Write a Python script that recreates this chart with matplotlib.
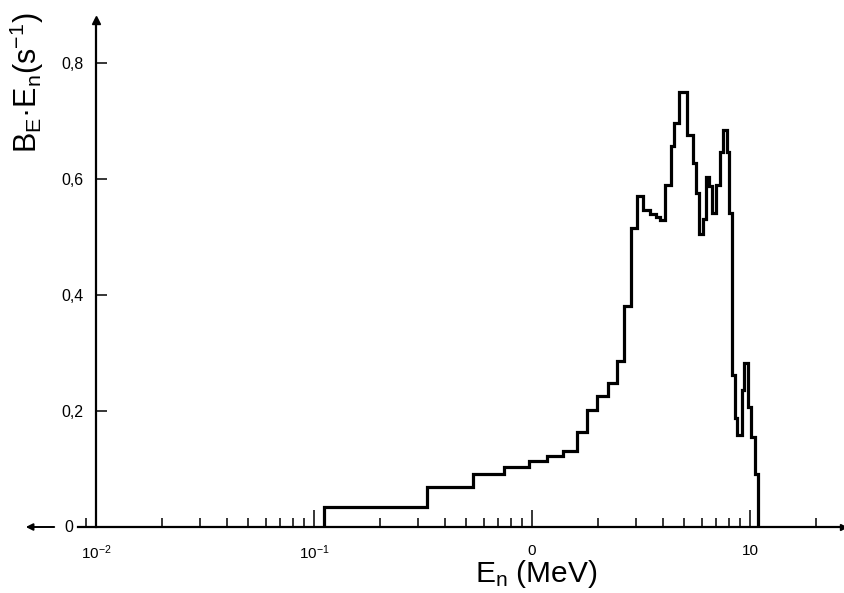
"""Neutron spectrum B_E*E_n vs E_n, step histogram on a log energy axis."""

import matplotlib
matplotlib.use("Agg")
import matplotlib.pyplot as plt
from matplotlib.ticker import FixedLocator, LogLocator, NullFormatter

# bin edges (MeV) and heights (s^-1)
edges_mev = [0.111, 0.330, 0.536, 0.745, 0.968, 1.17, 1.39, 1.61, 1.79, 1.99,
             2.23, 2.45, 2.64, 2.85, 3.03, 3.23, 3.48, 3.70, 3.87, 4.08,
             4.34, 4.48, 4.72, 5.14, 5.48, 5.65, 5.83, 6.09, 6.28, 6.48,
             6.69, 6.98, 7.28, 7.52, 7.84, 8.05, 8.26, 8.53, 8.71, 9.18,
             9.38, 9.79, 10.15, 10.5, 10.9]
be_en = [0.035, 0.069, 0.092, 0.103, 0.114, 0.122, 0.131, 0.164, 0.202,
         0.226, 0.248, 0.286, 0.381, 0.516, 0.571, 0.546, 0.540, 0.534,
         0.529, 0.590, 0.657, 0.697, 0.750, 0.676, 0.628, 0.576, 0.506,
         0.531, 0.603, 0.588, 0.541, 0.590, 0.647, 0.685, 0.647, 0.541,
         0.262, 0.188, 0.159, 0.236, 0.283, 0.207, 0.155, 0.092]

x_ticks = [0.01, 0.1, 1.0, 10.0]
x_tick_labels = ["$10^{-2}$", "$10^{-1}$", "0", "10"]
y_ticks = [0.2, 0.4, 0.6, 0.8]
y_tick_labels = ["0,2", "0,4", "0,6", "0,8"]

plt.rcParams["font.family"] = ["Liberation Sans", "DejaVu Sans"]
plt.rcParams["mathtext.default"] = "regular"

W, H = 845, 593
fig = plt.figure(figsize=(W / 100, H / 100), dpi=100)

# axes box in pixels: x 78..843, y 20..527 (from top)
left_px, right_px, top_px, bot_px = 78, 843, 20, 527
ax = fig.add_axes([left_px / W, 1 - bot_px / H,
                   (right_px - left_px) / W, (bot_px - top_px) / H])

decade_px = 218.0
xmin = 10 ** (-2 - (96 - left_px) / decade_px)
xmax = 10 ** (-2 + (right_px - 96) / decade_px)
ymax = (bot_px - top_px) / 580.0

ax.stairs(be_en, edges_mev, baseline=0, color="black", lw=2.3)

ax.set_xscale("log")
ax.set_xlim(xmin, xmax)
ax.set_ylim(0, ymax)

for side in ("top", "right"):
    ax.spines[side].set_visible(False)
ax.spines["left"].set_position(("data", 0.01))
ax.spines["left"].set_linewidth(1.6)
ax.spines["bottom"].set_linewidth(1.6)

# axis arrowheads
ax.plot([0.01], [1], marker="^", ms=6, color="black",
        transform=ax.get_xaxis_transform(), clip_on=False)
ax.plot([1], [0], marker=">", ms=4, color="black",
        transform=ax.get_yaxis_transform(), clip_on=False)

ax.xaxis.set_major_locator(FixedLocator(x_ticks))
ax.set_xticklabels(x_tick_labels)
ax.xaxis.set_minor_locator(LogLocator(base=10, subs=range(2, 10)))
ax.xaxis.set_minor_formatter(NullFormatter())
ax.tick_params(axis="x", which="major", direction="in", length=12,
               width=1.1, labelsize=11, pad=12)
ax.tick_params(axis="x", which="minor", direction="in", length=6.5,
               width=1.1)

ax.set_yticks(y_ticks)
ax.set_yticklabels(y_tick_labels)
ax.tick_params(axis="y", which="major", direction="in", length=8,
               width=1.1, labelsize=11.5, pad=9)

# zero label with its left arrow
y0 = 1 - bot_px / H
fig.text(69 / W, y0, "0", fontsize=11.5, ha="center", va="center")
ax.annotate("", xy=(23 / W, y0), xytext=(57 / W, y0),
            xycoords="figure fraction", textcoords="figure fraction",
            arrowprops=dict(arrowstyle="-|>", lw=1.4, color="black",
                            mutation_scale=10))

fig.text(536 / W, 1 - 582 / H, "E$_n$ (MeV)", fontsize=21.5,
         ha="center", va="baseline")
fig.text(27 / W, 1 - 83 / H, "B$_E$·E$_n$(s$^{-1}$)", fontsize=22,
         rotation=90, ha="center", va="center")

fig.savefig("out.png", dpi=100)
